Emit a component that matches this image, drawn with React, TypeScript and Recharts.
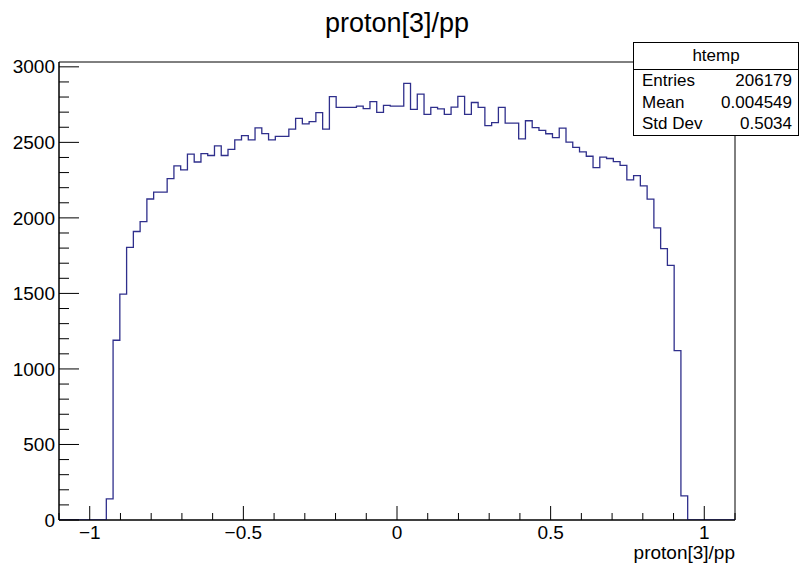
import { ComposedChart, Line, XAxis, YAxis, ReferenceArea } from 'recharts';

// histogram binning (htemp, 100 bins)
const X_MIN = -1.1;
const X_MAX = 1.1;
const Y_MAX = 3032;

// counts per bin, left to right
const binCounts = [
  0, 0, 0, 0, 0, 0, 0, 140, 1190, 1495,
  1805, 1910, 1975, 2125, 2170, 2170, 2260, 2345, 2318, 2422,
  2370, 2425, 2413, 2477, 2413, 2453, 2517, 2545, 2517, 2596,
  2558, 2517, 2539, 2539, 2588, 2659, 2623, 2637, 2697, 2588,
  2803, 2732, 2732, 2732, 2740, 2723, 2770, 2698, 2745, 2740,
  2740, 2890, 2718, 2819, 2685, 2731, 2722, 2685, 2733, 2804,
  2685, 2764, 2731, 2611, 2630, 2732, 2627, 2627, 2523, 2643,
  2598, 2580, 2557, 2532, 2594, 2502, 2467, 2437, 2408, 2333,
  2402, 2393, 2373, 2348, 2252, 2280, 2212, 2124, 1934, 1797,
  1686, 1121, 160, 0, 0, 0, 0, 0, 0, 0,
];

const xMajorTicks = [-1, -0.5, 0, 0.5, 1];
const xAllTicks = [-1.1, -1, -0.9, -0.8, -0.7, -0.6, -0.5, -0.4, -0.3, -0.2, -0.1, 0, 0.1, 0.2, 0.3, 0.4, 0.5, 0.6, 0.7, 0.8, 0.9, 1, 1.1];
const yMajorTicks = [0, 500, 1000, 1500, 2000, 2500, 3000];
const yAllTicks = Array.from({ length: 31 }, (_, i) => i * 100);

const statsRows = [
  ['Entries', '206179'],
  ['Mean', '0.004549'],
  ['Std Dev', '0.5034'],
];

const binW = (X_MAX - X_MIN) / binCounts.length;
const histData = [
  ...binCounts.map((c, i) => ({ x: Number((X_MIN + i * binW).toFixed(4)), y: c })),
  { x: X_MAX, y: 0 },
];

const FONT = '"Liberation Sans", Arial, Helvetica, sans-serif';
const LINE_COLOR = '#2f2f8c';

const fmtX = (v: number) => String(v).replace('-', '\u2212');

// ticks drawn inside the frame like ROOT does, labels only on major ticks
const XTick = ({ x, y, payload }: any) => {
  const v = payload.value;
  const major = xMajorTicks.includes(v);
  return (
    <g>
      <line x1={x} x2={x} y1={y} y2={y - (major ? 14 : 7)} stroke="#000" />
      {major && (
        <text x={x} y={y + 6} dy="0.71em" textAnchor="middle" fontSize={19} fill="#000" fontFamily={FONT}>
          {fmtX(v)}
        </text>
      )}
    </g>
  );
};

const YTick = ({ x, y, payload }: any) => {
  const v = payload.value;
  const major = yMajorTicks.includes(v);
  return (
    <g>
      <line x1={x} x2={x + (major ? 20 : 10)} y1={y} y2={y} stroke="#000" />
      {major && (
        <text x={x - 4} y={y} dy="0.35em" textAnchor="end" fontSize={19} fill="#000" fontFamily={FONT}>
          {v}
        </text>
      )}
    </g>
  );
};

export default function App() {
  return (
    <div style={{ position: 'absolute', left: 0, top: 0, width: 800, height: 565, background: '#fff', fontFamily: FONT }}>
      <div style={{ position: 'absolute', left: -3, top: 6, width: 800, textAlign: 'center', fontSize: 27, lineHeight: '34px', color: '#000' }}>
        proton[3]/pp
      </div>

      <ComposedChart width={800} height={565} data={histData} margin={{ top: 62, right: 65, bottom: 0, left: 0 }}>
        <XAxis
          dataKey="x"
          type="number"
          domain={[X_MIN, X_MAX]}
          allowDataOverflow
          ticks={xAllTicks}
          interval={0}
          height={45}
          tickLine={false}
          tickSize={0}
          tickMargin={0}
          axisLine={{ stroke: '#000' }}
          tick={<XTick />}
        />
        <YAxis
          type="number"
          domain={[0, Y_MAX]}
          allowDataOverflow
          ticks={yAllTicks}
          interval={0}
          width={59}
          tickLine={false}
          tickSize={0}
          tickMargin={0}
          axisLine={{ stroke: '#000' }}
          tick={<YTick />}
        />

        <ReferenceArea x1={X_MIN} x2={X_MAX} y1={0} y2={Y_MAX} fill="none" stroke="#000" strokeWidth={1} />

        <Line
          type="stepAfter"
          dataKey="y"
          stroke={LINE_COLOR}
          strokeWidth={1.3}
          dot={false}
          activeDot={false}
          isAnimationActive={false}
        />
      </ComposedChart>

      <div style={{ position: 'absolute', left: 535, top: 541, width: 200, textAlign: 'right', fontSize: 19, lineHeight: '24px', color: '#000' }}>
        proton[3]/pp
      </div>

      {/* stats box */}
      <div style={{ position: 'absolute', left: 633, top: 42, width: 164, height: 92, border: '1px solid #000', background: '#fff', fontSize: 17, color: '#000' }}>
        <div style={{ height: 26, lineHeight: '26px', textAlign: 'center', borderBottom: '1px solid #000' }}>htemp</div>
        {statsRows.map(([k, v]) => (
          <div key={k} style={{ display: 'flex', justifyContent: 'space-between', height: 21.5, lineHeight: '21.5px', padding: '0 6px 0 8px' }}>
            <span>{k}</span>
            <span>{v}</span>
          </div>
        ))}
      </div>
    </div>
  );
}
